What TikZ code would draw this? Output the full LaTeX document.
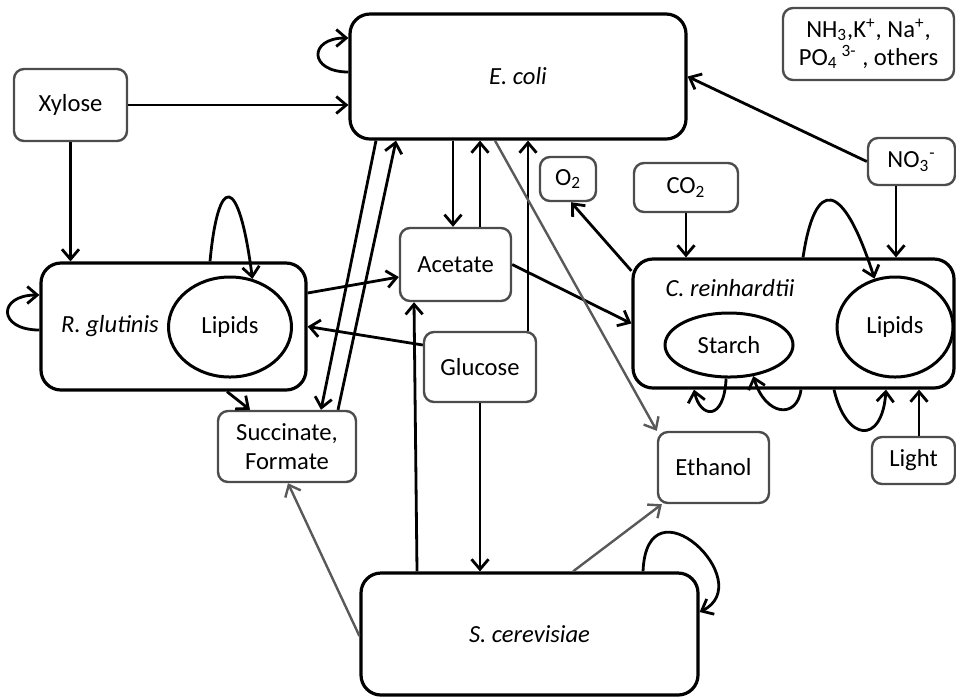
\documentclass[tikz,border=0pt]{standalone}
\usepackage{fontspec}
\setmainfont{Carlito}
\usepackage{tikz}
\usetikzlibrary{arrows.meta,shapes.geometric}

\begin{document}
\begin{tikzpicture}[
  x=0.5pt, y=-0.5pt,
  font=\fontsize{12.3}{14.5}\selectfont,
  >={Straight Barb[length=5pt,width=8.5pt]},
  org/.style={rectangle, draw=black, line width=1.6pt, rounded corners=10pt, inner sep=0pt},
  met/.style={rectangle, draw=black!70, line width=1.2pt, rounded corners=5pt, inner sep=0pt, align=center},
  pool/.style={ellipse, draw=black, line width=1.5pt, inner sep=0pt},
  arr/.style={->, line width=1.4pt},
  garr/.style={->, line width=1.2pt, draw=black!65},
]
\useasboundingbox (0,0) rectangle (956,698);
\node[org, minimum width=168pt, minimum height=62.5pt] (ecoli) at (518,76.5) {\itshape E. coli};
\node[met, minimum width=56.5pt, minimum height=36pt] (xyl) at (70.5,105) {Xylose};
\node[org, minimum width=132.5pt, minimum height=63.5pt] (rglu) at (173.5,326.5) {};
\node (rgname) at (110,326) {\itshape R. glutinis};
\node[pool, minimum width=61.5pt, minimum height=50pt] (rlip) at (230,327) {Lipids};
\node[met, minimum width=69pt, minimum height=35.5pt] (succ) at (287,446.5) {Succinate,\\Formate};
\node[met, minimum width=55.5pt, minimum height=36.5pt] (acet) at (455.5,264.5) {Acetate};
\node[met, minimum width=56pt, minimum height=35pt] (gluc) at (480,367) {Glucose};
\node[met, minimum width=28pt, minimum height=22pt] (otwo) at (568,179) {O\textsubscript{2}};
\node[met, minimum width=52pt, minimum height=24.5pt] (ctwo) at (686,187.5) {CO\textsubscript{2}};
\node[met, minimum width=85.5pt, minimum height=36pt, font=\fontsize{12.3}{14}\selectfont] (ions) at (868.5,44) {NH\textsubscript{3},K\textsuperscript{+}, Na\textsuperscript{+},\\PO\textsubscript{4}\,\textsuperscript{3-} , others};
\node[met, minimum width=43.5pt, minimum height=23.5pt] (nitr) at (911.5,161.5) {NO\textsubscript{3}\textsuperscript{-}};
\node[org, minimum width=160.5pt, minimum height=64.5pt] (crei) at (793.5,323.5) {};
\node (crname) at (730,288) {\itshape C. reinhardtii};
\node[pool, minimum width=64pt, minimum height=32pt] (stch) at (729,345) {Starch};
\node[pool, minimum width=58pt, minimum height=50pt] (clip) at (895,327) {Lipids};
\node[met, minimum width=55.5pt, minimum height=35.5pt] (etoh) at (713.5,467.5) {Ethanol};
\node[met, minimum width=41.5pt, minimum height=23.5pt] (lght) at (913.5,460.5) {Light};
\node[org, minimum width=168.5pt, minimum height=61pt] (scer) at (529.5,634) {\itshape S. cerevisiae};
% feeds and exchanges
\draw[arr] (xyl.east) -- (xyl.east -| ecoli.west);
\draw[arr] (xyl.south) -- (xyl.south |- rglu.north);
\draw[arr] (nitr.west) -- (ecoli.east);
\draw[arr] ([shift={(-15.5,0)}]nitr.south) -- ([shift={(102.5,0)}]crei.north);
\draw[arr] (ctwo.south) -- (ctwo.south |- crei.north);
\draw[arr] ([shift={(5.5,0)}]lght.north) -- ([shift={(125.5,0)}]crei.south);
\draw[arr] (crei.162) -- ([shift={(3,0)}]otwo.south);
\draw[arr] (acet.east) -- (crei.west);
\draw[arr] ([shift={(-65,0)}]ecoli.south) -- ([shift={(-2.5,0)}]acet.north);
\draw[arr] ([shift={(24.5,0)}]acet.north) -- ([shift={(-38,0)}]ecoli.south);
\draw[arr] ([shift={(48,0)}]gluc.north) -- ([shift={(10,0)}]ecoli.south);
\draw[arr] ([shift={(-142,0)}]ecoli.south) -- ([shift={(34,0)}]succ.north);
\draw[arr] ([shift={(51,0)}]succ.north) -- ([shift={(-122,0)}]ecoli.south);
\draw[arr] ([shift={(0,-33.5)}]rglu.east) -- ([shift={(0,12.5)}]acet.west);
\draw[arr] ([shift={(0,-22)}]gluc.west) -- (rglu.east);
\draw[arr] ([shift={(53.5,0)}]rglu.south) -- ([shift={(-37,0)}]succ.north);
\draw[arr] (gluc.south) -- (gluc.south |- scer.north);
\draw[arr] ([shift={(-112.5,0)}]scer.north) -- ([shift={(-41.5,0)}]acet.south);
\draw[garr] ([shift={(-23,0)}]ecoli.south) -- (etoh.north west);
\draw[garr] ([shift={(43.5,0)}]scer.north) -- ([shift={(5,0)}]etoh.south west);
\draw[garr] ([shift={(0,2)}]scer.west) -- ([shift={(1,0)}]succ.south);
% self loops
\draw[arr] ([shift={(0,-4.5)}]ecoli.west) .. controls +(-40,0) and +(-40,0) .. ([shift={(0,-38.5)}]ecoli.west);
\draw[arr] ([shift={(0,3.5)}]rglu.west) .. controls +(-42,0) and +(-42,0) .. ([shift={(0,-31.5)}]rglu.west);
\draw[arr] ([shift={(36.5,0)}]rglu.north) .. controls +(8,-86) and +(-14,-108) .. (rlip.65);
\draw[arr] ([shift={(9.5,0)}]crei.north) .. controls +(12,-80) and +(-32,-100) .. (clip.113);
\draw[arr] (stch.-95) .. controls +(-2,44) and +(6,28) .. ([shift={(-99.5,0)}]crei.south);
\draw[arr] ([shift={(7.5,0)}]crei.south) .. controls +(-4,30) and +(12,40) .. (stch.-52);
\draw[arr] ([shift={(40.5,0)}]crei.south) .. controls +(12,52) and +(-4,56) .. ([shift={(92.5,0)}]crei.south);
\draw[arr] ([shift={(113.5,0)}]scer.north) .. controls +(4,-96) and +(60,-30) .. ([shift={(0,-22)}]scer.east);
\end{tikzpicture}
\end{document}
